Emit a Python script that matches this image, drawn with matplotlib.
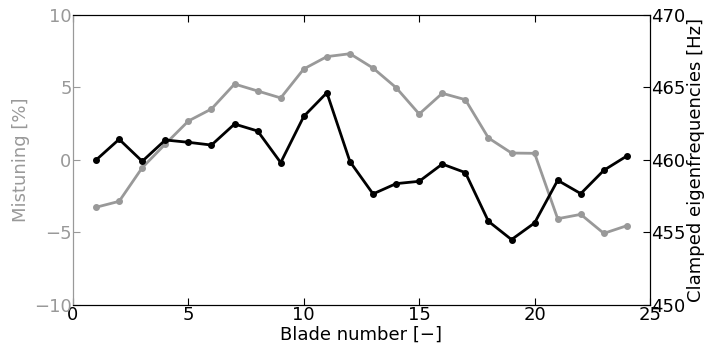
import matplotlib
matplotlib.use("Agg")
import matplotlib.pyplot as plt
import numpy as np

# blade index
blades = np.arange(1, 25)
# mistuning in percent (grey, left axis)
mistuning = [-3.26, -2.85, -0.53, 1.10, 2.69, 3.52, 5.24, 4.76, 4.28, 6.28, 7.13, 7.33,
             6.34, 4.99, 3.17, 4.60, 4.16, 1.52, 0.48, 0.46, -4.05, -3.75, -5.06, -4.53]
# clamped eigenfrequencies in Hz (black, right axis)
freqs = [460.00, 461.43, 459.91, 461.38, 461.22, 461.03, 462.48, 462.00, 459.82, 463.01,
         464.64, 459.89, 457.66, 458.37, 458.53, 459.72, 459.13, 455.77, 454.51, 455.66,
         458.60, 457.68, 459.29, 460.28]

grey = '#999999'
fs = 13

fig = plt.figure(figsize=(7.1, 3.53), dpi=100)
ax = fig.add_axes([0.1028, 0.136, 0.8127, 0.8215])
ax.plot(blades, mistuning, '-o', color=grey, lw=2, ms=4, mec=grey)
ax.set_xlim(0, 25)
ax.set_ylim(-10, 10)
ax.set_xticks([0, 5, 10, 15, 20, 25])
ax.set_yticks([-10, -5, 0, 5, 10])
ax.set_xlabel('Blade number [\u2212]', fontsize=fs, labelpad=1)
ax.set_ylabel('Mistuning [%]', fontsize=fs, color=grey, labelpad=3)
ax.tick_params(axis='x', direction='in', length=5, pad=1, labelsize=fs, top=True)
ax.tick_params(axis='y', direction='in', length=5, pad=1, labelsize=fs,
               colors=grey)
ax.spines['left'].set_color(grey)

ax2 = ax.twinx()
ax2.plot(blades, freqs, '-o', color='black', lw=2, ms=4)
ax2.set_ylim(450, 470)
ax2.set_yticks([450, 455, 460, 465, 470])
ax2.set_ylabel('Clamped eigenfrequencies [Hz]', fontsize=fs, labelpad=1)
ax2.tick_params(axis='y', direction='in', length=5, pad=1, labelsize=fs)
ax2.spines['left'].set_color(grey)

fig.savefig('out.png', dpi=100)
